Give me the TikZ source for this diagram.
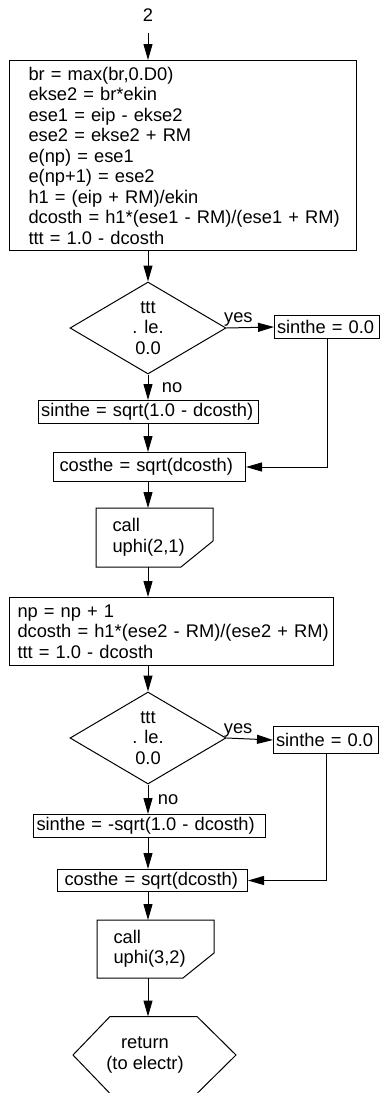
\documentclass[tikz,border=0pt]{standalone}
\usepackage{fontspec}
\setmainfont{Liberation Sans}
\usetikzlibrary{shapes.geometric,arrows.meta}

\begin{document}
\begin{tikzpicture}[x=1pt,y=-1pt,>={Triangle[length=16pt,width=9pt]},line width=1pt,
    every node/.style={font=\fontsize{18.3}{20.5}\selectfont},
    procbox/.style={draw,anchor=north west,align=left,inner ysep=0pt},
    callbox/.style={anchor=north west,align=left,inner ysep=0pt,text width=84pt,inner xsep=16pt},
    decbox/.style={draw,diamond,aspect=1.7,inner sep=0pt,minimum width=156pt,minimum height=92pt,align=center},
    yesbox/.style={draw,anchor=west,align=left,inner xsep=2.5pt,inner ysep=0pt,text width=100pt}]
  \useasboundingbox (0,0) rectangle (380,1093);

  \node[inner sep=0pt,anchor=base] (lbl) at (148,21) {2};
  \node[procbox,inner xsep=19pt,text width=309pt,minimum height=190pt] (init) at (9,60)
    {br = max(br,0.D0)\\ekse2 = br*ekin\\ese1 = eip - ekse2\\ese2 = ekse2 + RM\\e(np) = ese1\\
     e(np+1) = ese2\\h1 = (eip + RM)/ekin\\\mbox{dcosth = h1*(ese1 - RM)/(ese1 + RM)}\\ttt = 1.0 - dcosth};
  \draw[->,shorten <=11pt] (lbl.south) -- (lbl |- init.north);

  % first test
  \node[decbox] (dec1) at (148,328) {ttt\\. le.\\0.0};
  \node[yesbox,minimum height=23pt] (yes1) at (274,327) {sinthe = 0.0};
  \node[procbox,inner xsep=2.7pt,text width=214.6pt,minimum height=23pt] (sin1) at (38,400) {\mbox{sinthe = sqrt(1.0 - dcosth)}};
  \node[procbox,inner xsep=6pt,text width=180pt,minimum height=29pt] (cos1) at (53,452) {costhe = sqrt(dcosth)};
  \node[callbox,minimum height=58pt] (call1) at (96,508) {call\\uphi(2,1)};
  \draw (call1.north west) -- (call1.north east) -- ([yshift=26pt]call1.south east)
    -- ([xshift=-32pt]call1.south east) -- (call1.south west) -- cycle;

  \draw[->] (lbl |- init.south) -- (dec1.north);
  \draw[->] (dec1.east) -- (yes1.west) node[pos=0.25,above,inner sep=1pt] {yes};
  \draw[->] (dec1.south) -- (lbl |- sin1.north) node[midway,right=10pt] {no};
  \draw[->] (lbl |- sin1.south) -- (lbl |- cos1.north);
  \draw[->] (yes1.south) |- (cos1.east);
  \draw[->] (lbl |- cos1.south) -- (lbl |- call1.north);

  \node[procbox,inner xsep=8pt,text width=308pt,minimum height=68pt] (np) at (9,597)
    {np = np + 1\\\mbox{dcosth = h1*(ese2 - RM)/(ese2 + RM)}\\ttt = 1.0 - dcosth};
  \draw[->] (lbl |- call1.south) -- (lbl |- np.north);

  % second test
  \node[decbox] (dec2) at (148,738) {ttt\\. le.\\0.0};
  \node[yesbox,minimum height=27pt] (yes2) at (273,740) {sinthe = 0.0};
  \node[procbox,inner xsep=3pt,text width=226pt,minimum height=23pt] (sin2) at (33,814) {\mbox{sinthe = -sqrt(1.0 - dcosth)}};
  \node[procbox,inner xsep=7pt,text width=176pt,minimum height=22pt] (cos2) at (57,869) {costhe = sqrt(dcosth)};
  \node[callbox,minimum height=57pt] (call2) at (97,920) {call\\uphi(3,2)};
  \draw (call2.north west) -- (call2.north east) -- ([yshift=25pt]call2.south east)
    -- ([xshift=-31pt]call2.south east) -- (call2.south west) -- cycle;

  \draw[->] (lbl |- np.south) -- (dec2.north);
  \draw[->] (dec2.east) -- (yes2.west) node[pos=0.25,above,inner sep=1pt] {yes};
  \draw[->] (dec2.south) -- (lbl |- sin2.north) node[midway,right=6pt] {no};
  \draw[->] (lbl |- sin2.south) -- (lbl |- cos2.north);
  \draw[->] (yes2.south) |- (cos2.east);
  \draw[->] (lbl |- cos2.south) -- (lbl |- call2.north);

  \node[inner sep=0pt,minimum height=76pt,align=center] (ret) at (145,1055) {return\\(to electr)};
  \draw ([xshift=-72pt]ret.center) -- ([xshift=-35pt]ret.north) -- ([xshift=52pt]ret.north)
    -- ([xshift=91pt]ret.center) -- ([xshift=52pt]ret.south) -- ([xshift=-35pt]ret.south) -- cycle;
  \draw[->] (lbl |- call2.south) -- (lbl |- ret.north);
\end{tikzpicture}
\end{document}
